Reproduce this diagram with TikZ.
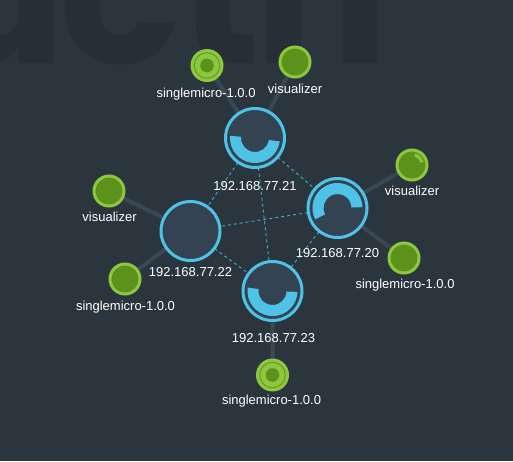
\documentclass[tikz,border=0pt]{standalone}
\usepackage{fontspec}
\setmainfont{Liberation Sans}
\newfontfamily\wmfont{Poppins}
\usetikzlibrary{calc}
\pgfdeclarelayer{base}
\pgfdeclarelayer{background}
\pgfsetlayers{base,background,main}
\definecolor{bg}{HTML}{2A353E}
\definecolor{wm}{HTML}{262F38}
\definecolor{hostfill}{HTML}{344352}
\definecolor{cy}{HTML}{4EC3E6}
\definecolor{lg}{HTML}{8DC63F}
\definecolor{dg}{HTML}{5C911B}
\definecolor{edgec}{HTML}{3A4855}
\newcommand\bandarc[5]{% center, r1, r2, a, b (visual angles, ccw)
  \fill[cy] ($(#1)+(-#4:#3)$) arc[start angle=-#4, end angle=-#5, radius=#3]
    -- ($(#1)+(-#5:#2)$) arc[start angle=-#5, end angle=-#4, radius=#2] -- cycle;}
\begin{document}
\begin{tikzpicture}[x=1pt,y=-1pt,
  host/.style={circle,draw=cy,line width=3pt,fill=hostfill,minimum size=59pt,inner sep=0pt},
  ctr/.style={circle,draw=lg,line width=3pt,fill=dg,minimum size=30pt,inner sep=0pt},
  smc/.style={ctr,fill=lg},
  lbl/.style={text=white,font=\fontsize{13}{13}\selectfont,anchor=base,inner sep=0pt},
  link/.style={draw=edgec,line width=4pt},
  peer/.style={draw=cy!85!bg,line width=0.9pt,dash pattern=on 3pt off 3pt},
  wml/.style={text=wm,font=\wmfont\bfseries\fontsize{200}{200}\selectfont,anchor=base,inner sep=0pt}]
\begin{pgfonlayer}{base}
\fill[bg] (0,0) rectangle (513,461);
\begin{scope}
\clip (0,0) rectangle (513,461);
\node[wml] (w1) at (-2,63) {u};
\node[wml] (w2) at (120,63) {c};
\node[wml] (w3) at (219,63) {t};
\node[wml] (w4) at (322,63) {n};
\end{scope}
\end{pgfonlayer}
\useasboundingbox (0,0) rectangle (513,461);
% hosts
\node[host] (h21) at (255,138) {};
\node[host] (h20) at (337.5,208) {};
\node[host] (h22) at (190.5,231) {};
\node[host] (h23) at (272.5,291) {};
% containers
\node[smc] (c21a) at (207,65.5) {};
\node[ctr] (c21b) at (295,62) {};
\node[ctr] (c20a) at (412,165) {};
\node[ctr] (c20b) at (404,258) {};
\node[ctr] (c22a) at (109,191) {};
\node[ctr] (c22b) at (125,279) {};
\node[smc] (c23a) at (272.5,375) {};
% connectors
\begin{pgfonlayer}{background}
\path[link] (h21.center) -- (c21a.center) (h21.center) -- (c21b.center)
  (h20.center) -- (c20a.center) (h20.center) -- (c20b.center)
  (h22.center) -- (c22a.center) (h22.center) -- (c22b.center)
  (h23.center) -- (c23a.center);
\path[peer] (h21.center) -- (h20.center) (h21.center) -- (h22.center)
  (h21.center) -- (h23.center) (h20.center) -- (h22.center)
  (h20.center) -- (h23.center) (h22.center) -- (h23.center);
\end{pgfonlayer}
% load arcs
\bandarc{h21}{14}{25}{175}{352}
\bandarc{h20}{14}{25}{2}{207}
\bandarc{h23}{14}{25}{172}{358}
% container details
\foreach \c in {c21a,c23a}{
  \draw[dg!85!lg,line width=0.9pt] (\c.center) circle[radius=12.8];
  \fill[dg] (\c.center) circle[radius=6.8];
}
\fill[lg] ($(c20a)+(-15:12)$) arc[start angle=-15, end angle=-75, radius=12]
  -- ($(c20a)+(-75:9)$) arc[start angle=-75, end angle=-15, radius=9] -- cycle;
% labels
\node[lbl] (l21a) at (206,97) {singlemicro-1.0.0};
\node[lbl] (l21b) at (295,93) {visualizer};
\node[lbl] (l21) at (255,190) {192.168.77.21};
\node[lbl] (l20a) at (412,195.5) {visualizer};
\node[lbl] (l20) at (337.5,257) {192.168.77.20};
\node[lbl] (l20b) at (405,288) {singlemicro-1.0.0};
\node[lbl] (l22a) at (109.5,221.5) {visualizer};
\node[lbl] (l22) at (190.5,276) {192.168.77.22};
\node[lbl] (l22b) at (125.5,310) {singlemicro-1.0.0};
\node[lbl] (l23) at (273.5,342) {192.168.77.23};
\node[lbl] (l23a) at (271.5,404) {singlemicro-1.0.0};
\end{tikzpicture}
\end{document}
